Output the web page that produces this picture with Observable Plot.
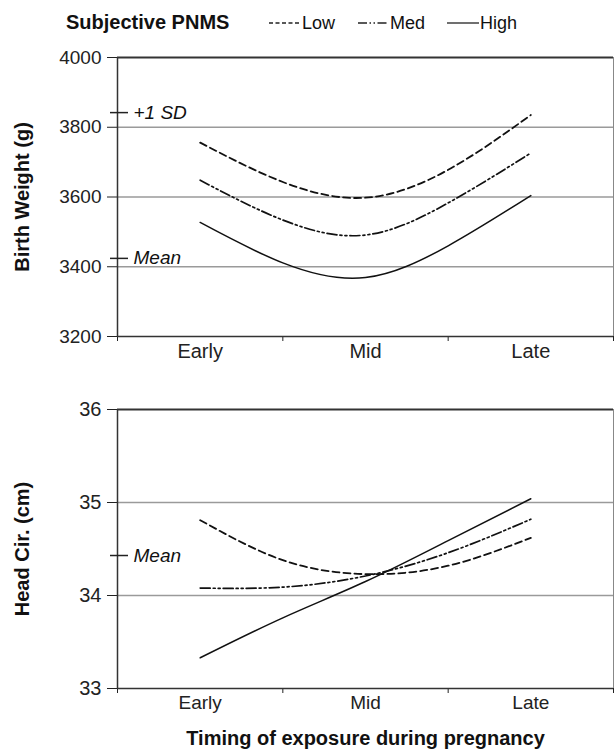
<!DOCTYPE html>
<html><head><meta charset="utf-8">
<script src="https://cdn.jsdelivr.net/npm/d3@7"></script>
<script src="https://cdn.jsdelivr.net/npm/@observablehq/plot@0.6"></script>
<style>
body{margin:0;background:#fff;font-family:"Liberation Sans",Arial,sans-serif;}
#chart{width:614px;}
svg{display:block;}
</style></head><body><div id="chart"></div>
<script>
// ---- data ----
const categories = ["Early", "Mid", "Late"];
// positions along the timing axis: Early, Early–Mid, Mid, Mid–Late, Late
const timePoints = [0, 0.5, 1, 1.5, 2];
const seriesNames = ["Low", "Med", "High"];

const bwLow  = [3756, 3643, 3598, 3678, 3835];
const bwMed  = [3648, 3534, 3491, 3583, 3726];
const bwHigh = [3527, 3411, 3369, 3460, 3604];

const hcLow  = [34.81, 34.38, 34.23, 34.32, 34.62];
const hcMed  = [34.08, 34.09, 34.21, 34.46, 34.82];
const hcHigh = [33.33, 33.76, 34.15, 34.59, 35.04];

const bwTicks = [3200, 3400, 3600, 3800, 4000];
const hcTicks = [33, 34, 35, 36];
const bwRefValues = [3842, 3424];
const bwRefLabels = ["+1 SD", "Mean"];
const hcRefValues = [34.43];
const hcRefLabels = ["Mean"];

const legendTitle = "Subjective PNMS";
const yLabelTop = "Birth Weight (g)";
const yLabelBottom = "Head Cir. (cm)";
const xTitle = "Timing of exposure during pregnancy";

// ---- styles ----
const dashes = {Low: "7,4", Med: "10,3,2,3,2,3", High: null};
const widths = {Low: 1.8, Med: 1.7, High: 1.5};
const legendDashes = {Low: "4,2.5", Med: "9,2.5,1.5,2.5,1.5,2.5", High: null};

const chart = document.getElementById("chart");

// ---- legend ----
const leg = d3.create("svg").attr("width", 614).attr("height", 40)
  .style("font-family", '"Liberation Sans", Arial, sans-serif');
leg.append("text").attr("x", 66).attr("y", 29).attr("font-size", 20)
  .attr("font-weight", "bold").attr("fill", "#111").text(legendTitle);
const legPos = {Low: [269, 299, 302], Med: [358, 387, 390], High: [447, 479, 480]};
seriesNames.forEach(s => {
  const [a, b, t] = legPos[s];
  leg.append("line").attr("x1", a).attr("x2", b).attr("y1", 23).attr("y2", 23)
    .attr("stroke", "#222").attr("stroke-width", 1.3)
    .attr("stroke-dasharray", legendDashes[s]);
  leg.append("text").attr("x", t).attr("y", 29).attr("font-size", 18)
    .attr("fill", "#111").text(s);
});
chart.appendChild(leg.node());

function rowsFor(vals) {
  return seriesNames.flatMap((s, k) => timePoints.map((t, i) => ({series: s, t, v: vals[k][i]})));
}

function panel({vals, yDomain, yTicks, refValues, refLabels, yLabel, height, marginTop, marginBottom, tickFs, xFs, title}) {
  const rows = rowsFor(vals);
  const inner = yTicks.slice(1, -1);
  const marks = [
    Plot.ruleY(inner, {stroke: "#9a9a9a", strokeWidth: 1.3}),
    Plot.ruleY([yDomain[1]], {stroke: "#333", strokeWidth: 2}),
    Plot.ruleX([2.5], {stroke: "#888", strokeWidth: 1}),
    ...seriesNames.map(s => Plot.line(rows.filter(r => r.series === s), {
      x: "t", y: "v", curve: "natural", stroke: "#111",
      strokeWidth: widths[s], strokeDasharray: dashes[s]
    })),
    Plot.axisY({ticks: yTicks, tickSize: 10, tickPadding: 6, tickFormat: d => String(d), fontSize: tickFs, label: null}),
    Plot.axisX({ticks: [-0.5, 0.5, 1.5, 2.5], tickSize: 5, tickFormat: () => "", label: null}),
    Plot.axisX({ticks: [0, 1, 2], tickSize: 0, tickPadding: 7, tickFormat: i => categories[i], fontSize: xFs, label: null}),
    Plot.ruleX([-0.5], {stroke: "#333", strokeWidth: 1.5}),
    Plot.ruleY([yDomain[0]], {stroke: "#333", strokeWidth: 1.5}),
    Plot.ruleY(refValues, {x1: -0.5, x2: -0.5, insetLeft: -7, insetRight: -11, stroke: "#222", strokeWidth: 1.5}),
    Plot.text(refValues, {x: -0.5, y: d => d, text: (d, i) => refLabels[i], dx: 16, textAnchor: "start", fontStyle: "italic", fontSize: 19, fill: "#111"}),
    Plot.text([yLabel], {frameAnchor: "left", textAnchor: "middle", rotate: -90, dx: -95, fontWeight: "bold", fontSize: 20, fill: "#111"})
  ];
  if (title) marks.push(Plot.text([title], {frameAnchor: "bottom", textAnchor: "middle", dy: 56, fontWeight: "bold", fontSize: 20, fill: "#111"}));
  return Plot.plot({
    width: 614, height, marginLeft: 117, marginRight: 1, marginTop, marginBottom,
    style: {fontFamily: '"Liberation Sans", Arial, sans-serif', fontSize: "18px", color: "#222", background: "#fff", overflow: "visible"},
    x: {domain: [-0.5, 2.5]},
    y: {domain: yDomain},
    marks
  });
}

chart.appendChild(panel({
  vals: [bwLow, bwMed, bwHigh], yDomain: [3200, 4000], yTicks: bwTicks,
  refValues: bwRefValues, refLabels: bwRefLabels, yLabel: yLabelTop,
  height: 332, marginTop: 17, marginBottom: 36, tickFs: 19, xFs: 20
}));
chart.appendChild(panel({
  vals: [hcLow, hcMed, hcHigh], yDomain: [33, 36], yTicks: hcTicks,
  refValues: hcRefValues, refLabels: hcRefLabels, yLabel: yLabelBottom,
  height: 379, marginTop: 37, marginBottom: 63, tickFs: 20, xFs: 19, title: xTitle
}));
</script></body></html>
